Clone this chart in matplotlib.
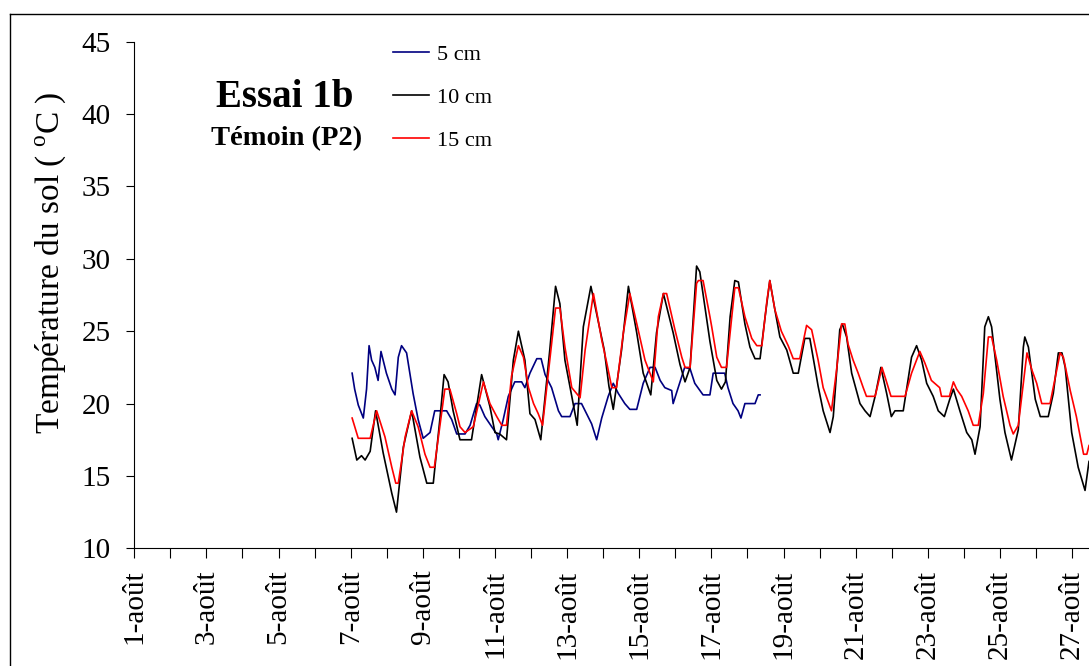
import matplotlib
matplotlib.use("Agg")
import matplotlib.pyplot as plt
from matplotlib.lines import Line2D

plt.rcParams["font.family"] = ["Liberation Serif", "DejaVu Serif"]
plt.rcParams["mathtext.fontset"] = "custom"
plt.rcParams["mathtext.rm"] = "Liberation Serif"

# soil temperature (day of August, deg C)
days_5cm = [7.04, 7.11, 7.21, 7.35, 7.44, 7.51, 7.58, 7.67, 7.76, 7.84, 7.99, 8.14,
            8.23, 8.32, 8.41, 8.55, 8.73, 8.87, 9.01, 9.20, 9.33, 9.66, 9.80, 9.94,
            10.17, 10.31, 10.49, 10.58, 10.72, 10.91, 11.05, 11.09, 11.23, 11.37,
            11.55, 11.74, 11.83, 11.97, 12.16, 12.28, 12.39, 12.57, 12.76, 12.85,
            13.08, 13.22, 13.40, 13.54, 13.68, 13.82, 13.96, 14.14, 14.28, 14.42,
            14.60, 14.74, 14.93, 15.11, 15.30, 15.44, 15.58, 15.71, 15.90, 15.94,
            16.08, 16.26, 16.41, 16.54, 16.77, 16.96, 17.05, 17.37, 17.46, 17.60,
            17.74, 17.82, 17.93, 18.21, 18.30, 18.35]
temp_5cm = [22.1, 21.0, 19.9, 19.0, 21.0, 24.0, 23.0, 22.5, 21.6, 23.6, 22.1, 21.0,
            20.6, 23.2, 24.0, 23.5, 20.7, 18.9, 17.6, 18.0, 19.5, 19.5, 18.9, 17.9,
            17.9, 18.5, 20.0, 19.9, 19.1, 18.4, 17.9, 17.5, 18.9, 20.5,
            21.5, 21.5, 21.1, 22.1, 23.1, 23.1, 22.0, 21.1, 19.5, 19.1,
            19.1, 20.0, 20.0, 19.3, 18.6, 17.5, 19.0, 20.5, 21.4, 20.7,
            20.0, 19.6, 19.6, 21.4, 22.5, 22.5, 21.6, 21.1, 20.9, 20.0,
            21.1, 22.5, 22.4, 21.4, 20.6, 20.6, 22.1, 22.1, 21.1, 20.0,
            19.5, 19.0, 20.0, 20.0, 20.6, 20.6]

days_10cm = [7.04, 7.17, 7.30, 7.40, 7.54, 7.69, 7.90, 8.14, 8.27, 8.46, 8.69, 8.92,
             9.11, 9.29, 9.48, 9.59, 9.70, 9.84, 10.03, 10.35, 10.63, 10.86, 11.00,
             11.13, 11.32, 11.51, 11.65, 11.83, 11.97, 12.11, 12.27, 12.52, 12.68,
             12.80, 12.94, 13.13, 13.28, 13.45, 13.66, 14.03, 14.16, 14.28, 14.51,
             14.70, 14.93, 15.11, 15.32, 15.48, 15.67, 15.94, 16.13, 16.27, 16.41,
             16.59, 16.68, 16.96, 17.15, 17.28, 17.39, 17.52, 17.65, 17.75, 17.93,
             18.07, 18.21, 18.35, 18.49, 18.62, 18.76, 18.90, 19.09, 19.27, 19.41,
             19.59, 19.73, 19.96, 20.10, 20.29, 20.38, 20.56, 20.63, 20.75, 20.89,
             21.12, 21.26, 21.40, 21.54, 21.70, 21.86, 21.99, 22.09, 22.32, 22.55,
             22.69, 22.83, 22.97, 23.15, 23.29, 23.46, 23.61, 23.71, 23.89, 24.08,
             24.22, 24.31, 24.45, 24.58, 24.68, 24.77, 25.00, 25.14, 25.32, 25.51,
             25.65, 25.69, 25.79, 25.98, 26.12, 26.34, 26.48, 26.62, 26.72, 26.81,
             26.99, 27.17, 27.36, 27.47]
temp_10cm = [17.6, 16.1, 16.4, 16.1, 16.7, 19.5, 16.6, 13.8, 12.5, 17.0, 19.5, 16.3,
             14.5, 14.5, 19.1, 22.0, 21.5, 19.5, 17.5, 17.5, 22.0, 19.8, 18.0,
             17.9, 17.5, 23.0, 25.0, 23.0, 19.3, 18.9, 17.5, 23.7, 28.1,
             26.9, 23.0, 20.5, 18.5, 25.3, 28.1, 23.7, 21.2, 19.6, 23.7,
             28.1, 24.9, 22.1, 20.6, 24.9, 27.6, 24.9, 22.7, 21.5, 22.5,
             29.5, 29.1, 24.3, 21.6, 21.0, 21.5, 26.0, 28.5, 28.4, 25.5,
             23.9, 23.1, 23.1, 26.0, 28.5, 26.5, 24.6, 23.7, 22.1, 22.1,
             24.5, 24.5, 21.2, 19.5, 18.0, 19.1, 25.1, 25.5, 24.6, 22.1,
             20.0, 19.5, 19.1, 20.5, 22.5, 20.7, 19.1, 19.5, 19.5, 23.2,
             24.0, 23.0, 21.4, 20.5, 19.5, 19.1, 20.3, 21.0, 19.5, 18.0,
             17.5, 16.5, 18.4, 25.3, 26.0, 25.3, 20.3, 18.0, 16.1, 18.2,
             23.9, 24.6, 23.9, 20.3, 19.1, 19.1, 20.7, 23.5, 23.5, 22.5,
             18.0, 15.6, 14.0, 16.0]

days_15cm = [7.04, 7.21, 7.54, 7.72, 7.95, 8.14, 8.25, 8.32, 8.51, 8.69, 8.87, 9.06,
             9.20, 9.32, 9.48, 9.61, 9.75, 9.94, 10.03, 10.17, 10.40, 10.68, 10.86,
             11.05, 11.19, 11.32, 11.46, 11.65, 11.79, 11.93, 12.07, 12.20, 12.32,
             12.52, 12.68, 12.80, 12.94, 13.13, 13.36, 13.50, 13.73, 13.96, 14.10,
             14.24, 14.37, 14.56, 14.74, 14.97, 15.16, 15.39, 15.53, 15.67, 15.76,
             15.99, 16.18, 16.27, 16.41, 16.59, 16.64, 16.77, 16.96, 17.01, 17.15,
             17.28, 17.42, 17.52, 17.65, 17.75, 17.93, 18.12, 18.26, 18.40, 18.54,
             18.62, 18.76, 18.94, 19.13, 19.27, 19.45, 19.64, 19.78, 19.96, 20.10,
             20.26, 20.33, 20.47, 20.61, 20.70, 20.79, 20.93, 21.07, 21.21, 21.30,
             21.54, 21.73, 21.82, 21.98, 22.37, 22.55, 22.78, 22.92, 23.10, 23.33,
             23.38, 23.60, 23.71, 23.80, 23.94, 24.12, 24.26, 24.40, 24.54, 24.68,
             24.77, 24.91, 25.09, 25.28, 25.37, 25.51, 25.75, 25.89, 26.02, 26.16,
             26.39, 26.67, 26.76, 26.95, 27.12, 27.32, 27.41, 27.47]
temp_15cm = [19.0, 17.6, 17.6, 19.5, 17.7, 15.6, 14.5, 14.5, 17.7, 19.5, 18.4, 16.5,
             15.6, 15.6, 18.6, 21.0, 21.0, 19.3, 18.4, 18.0, 18.4, 21.5, 20.0,
             19.1, 18.5, 18.5, 21.9, 24.0, 23.2, 21.1, 20.0, 19.3, 18.5,
             23.0, 26.6, 26.6, 23.9, 21.1, 20.4, 23.7, 27.6, 24.4, 22.8,
             21.1, 21.1, 24.9, 27.6, 25.1, 23.0, 21.5, 26.0, 27.6, 27.6,
             25.1, 23.2, 22.5, 22.5, 28.3, 28.5, 28.5, 26.0, 25.3, 23.2,
             22.5, 22.5, 24.9, 28.0, 28.0, 26.0, 24.5, 24.0, 24.0, 27.1,
             28.5, 26.5, 25.0, 24.0, 23.1, 23.1, 25.4, 25.1, 23.0, 21.1,
             20.0, 19.5, 22.3, 25.5, 25.5, 24.1, 23.0, 22.1, 21.1, 20.5,
             20.5, 22.5, 21.8, 20.5, 20.5, 22.1, 23.6, 22.8, 21.6, 21.1,
             20.5, 20.5, 21.5, 21.0, 20.5, 19.5, 18.5, 18.5, 20.7, 24.6,
             24.6, 23.0, 20.5, 18.5, 17.9, 18.5, 23.5, 22.3, 21.4, 20.0,
             20.0, 23.5, 23.2, 20.9, 19.1, 16.5, 16.5, 17.1]

series_labels = ["5 cm", "10 cm", "15 cm"]
series_colors = ["#000080", "black", "red"]
day_ticks = list(range(1, 28))
tick_labels = [f"{d}-août" if d % 2 == 1 else "" for d in day_ticks]

fig = plt.figure(figsize=(10.89, 6.66), dpi=100)
ax = fig.add_axes([0.1233, 0.1767, 0.8767, 0.7607])

ax.plot(days_5cm, temp_5cm, color=series_colors[0], lw=1.2, label=series_labels[0])
ax.plot(days_10cm, temp_10cm, color=series_colors[1], lw=1.2, label=series_labels[1])
ax.plot(days_15cm, temp_15cm, color=series_colors[2], lw=1.2, label=series_labels[2])

ax.set_xlim(1, 27.47)
ax.set_ylim(10, 45)
ax.set_yticks(range(10, 50, 5))
ax.set_xticks(day_ticks)
ax.set_xticklabels(tick_labels, rotation=90)
ax.tick_params(axis="y", direction="out", length=6, width=0.8, pad=11, labelsize=21)
ax.tick_params(axis="x", direction="out", length=7.5, width=0.8, pad=8, labelsize=21)

for side in ["top", "right"]:
    ax.spines[side].set_visible(False)
for side in ["left", "bottom"]:
    ax.spines[side].set_linewidth(0.8)

ax.legend(loc="upper left", bbox_to_anchor=(0.271, 0.995), frameon=False,
          fontsize=16, handlelength=1.6, handletextpad=0.4, labelspacing=1.02,
          borderpad=0, borderaxespad=0)

ax.text(0.158, 0.89, "Essai 1b", transform=ax.transAxes, ha="center", va="center",
        fontsize=28, fontweight="bold")
ax.text(0.16, 0.808, "Témoin (P2)", transform=ax.transAxes, ha="center", va="center",
        fontsize=20.5, fontweight="bold")

fig.text(0.046, 0.605, "Température du sol ( $^{\\mathrm{o}}$C )", rotation=90,
         ha="center", va="center", fontsize=24)

# outer frame (top and left edges visible only)
fig.add_artist(Line2D([9.5 / 1089, 1], [1 - 13.5 / 666] * 2, color="black", lw=1))
fig.add_artist(Line2D([9.5 / 1089] * 2, [0, 1 - 13.5 / 666], color="black", lw=1))

fig.savefig("out.png", dpi=100)
